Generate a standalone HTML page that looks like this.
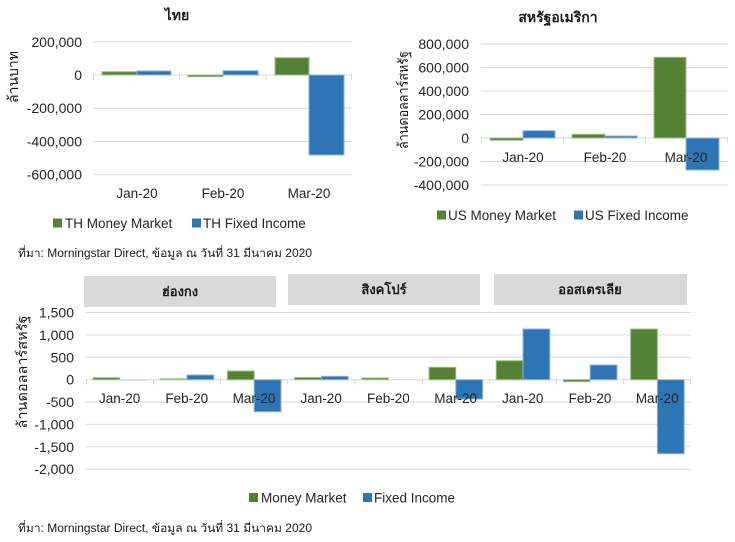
<!DOCTYPE html>
<html>
<head>
<meta charset="utf-8">
<style>
html,body{margin:0;padding:0;background:#fff;}
body{width:735px;height:542px;overflow:hidden;}
svg{display:block;}
text{font-family:"Liberation Sans","DejaVu Sans","Noto Sans CJK SC",sans-serif;fill:#262626;}
.tk{font-size:14px;text-anchor:end;}
.xl{font-size:13.5px;text-anchor:middle;}
.lg{font-size:13.5px;}
.tt{font-size:14px;font-weight:bold;text-anchor:middle;fill:#1a1a1a;}
.yl{font-size:14px;text-anchor:middle;fill:#1a1a1a;}
.src{font-size:11.5px;fill:#1a1a1a;}
.g{fill:#548235;stroke:#9fbf86;stroke-width:1;}
.b{fill:#2e75b6;stroke:#8fb3db;stroke-width:1;}
.gl{stroke:#d9d9d9;stroke-width:1;}
</style>
</head>
<body>
<svg width="735" height="542" viewBox="0 0 735 542" xmlns="http://www.w3.org/2000/svg">
<!-- ===== Top-left: Thailand ===== -->
<text class="tt" x="177" y="20">ไทย</text>
<g>
<line class="gl" x1="93" y1="41.8" x2="352" y2="41.8"/>
<line class="gl" x1="93" y1="108.2" x2="352" y2="108.2"/>
<line class="gl" x1="93" y1="141.4" x2="352" y2="141.4"/>
<line class="gl" x1="93" y1="174.6" x2="352" y2="174.6"/>
<line class="gl" x1="93" y1="75" x2="352" y2="75"/>
<line class="gl" x1="93.5" y1="75" x2="93.5" y2="80"/>
<line class="gl" x1="179.5" y1="75" x2="179.5" y2="80"/>
<line class="gl" x1="266" y1="75" x2="266" y2="80"/>
<line class="gl" x1="351.5" y1="75" x2="351.5" y2="80"/>
</g>
<text class="tk" x="82" y="46.8">200,000</text>
<text class="tk" x="82" y="80">0</text>
<text class="tk" x="82" y="113.2">-200,000</text>
<text class="tk" x="82" y="146.4">-400,000</text>
<text class="tk" x="82" y="179.6">-600,000</text>
<text class="yl" transform="translate(18,77) rotate(-90)">ล้านบาท</text>
<rect class="g" x="102" y="71.7" width="35" height="3.3"/>
<rect class="b" x="137" y="71" width="34" height="4"/>
<rect class="g" x="188" y="75" width="35" height="1.7"/>
<rect class="b" x="223" y="70.7" width="35" height="4.3"/>
<rect class="g" x="275" y="57.7" width="34" height="17.3"/>
<rect class="b" x="309" y="75" width="35" height="80"/>
<text class="xl" x="137" y="198">Jan-20</text>
<text class="xl" x="223" y="198">Feb-20</text>
<text class="xl" x="309" y="198">Mar-20</text>
<rect x="53" y="218.5" width="9" height="9" fill="#548235"/>
<text class="lg" x="65" y="228">TH Money Market</text>
<rect x="192" y="218.5" width="9" height="9" fill="#2e75b6"/>
<text class="lg" x="203" y="228">TH Fixed Income</text>
<text class="src" x="18" y="257" textLength="294" lengthAdjust="spacingAndGlyphs">ที่มา: Morningstar Direct, ข้อมูล ณ วันที่ 31 มีนาคม 2020</text>

<!-- ===== Top-right: USA ===== -->
<text class="tt" x="558" y="22">สหรัฐอเมริกา</text>
<g>
<line class="gl" x1="481" y1="44" x2="728" y2="44"/>
<line class="gl" x1="481" y1="67.5" x2="728" y2="67.5"/>
<line class="gl" x1="481" y1="91" x2="728" y2="91"/>
<line class="gl" x1="481" y1="114.5" x2="728" y2="114.5"/>
<line class="gl" x1="481" y1="161.5" x2="728" y2="161.5"/>
<line class="gl" x1="481" y1="185" x2="728" y2="185"/>
<line class="gl" x1="481" y1="138" x2="728" y2="138"/>
<line class="gl" x1="481.5" y1="138" x2="481.5" y2="143"/>
<line class="gl" x1="563.5" y1="138" x2="563.5" y2="143"/>
<line class="gl" x1="645.5" y1="138" x2="645.5" y2="143"/>
<line class="gl" x1="727.5" y1="138" x2="727.5" y2="143"/>
</g>
<text class="tk" x="469" y="49">800,000</text>
<text class="tk" x="469" y="72.5">600,000</text>
<text class="tk" x="469" y="96">400,000</text>
<text class="tk" x="469" y="119.5">200,000</text>
<text class="tk" x="469" y="143">0</text>
<text class="tk" x="469" y="166.5">-200,000</text>
<text class="tk" x="469" y="190">-400,000</text>
<text class="yl" transform="translate(408,100) rotate(-90)" textLength="98" lengthAdjust="spacingAndGlyphs">ล้านดอลลาร์สหรัฐ</text>
<rect class="g" x="490" y="138" width="33" height="2.3"/>
<rect class="b" x="523" y="130.7" width="32" height="7.3"/>
<rect class="g" x="572" y="134.3" width="33" height="3.7"/>
<rect class="b" x="605" y="136" width="32" height="2"/>
<rect class="g" x="654" y="57.3" width="32" height="80.7"/>
<rect class="b" x="686" y="138" width="33" height="32"/>
<text class="xl" x="523" y="162">Jan-20</text>
<text class="xl" x="605" y="162">Feb-20</text>
<text class="xl" x="686" y="162">Mar-20</text>
<rect x="437" y="210.5" width="9" height="9" fill="#548235"/>
<text class="lg" x="448" y="220">US Money Market</text>
<rect x="574" y="210.5" width="9" height="9" fill="#2e75b6"/>
<text class="lg" x="585" y="220">US Fixed Income</text>

<!-- ===== Bottom: HK / SG / AU ===== -->
<rect x="84" y="276" width="192" height="31" fill="#d9d9d9"/>
<rect x="288" y="274" width="192" height="31" fill="#d9d9d9"/>
<rect x="494" y="274" width="193" height="31" fill="#d9d9d9"/>
<text class="tt" x="180" y="296" style="font-size:13px">ฮ่องกง</text>
<text class="tt" x="384" y="294" style="font-size:13px">สิงคโปร์</text>
<text class="tt" x="590" y="294" style="font-size:13px">ออสเตรเลีย</text>
<g>
<line class="gl" x1="86" y1="312.5" x2="691" y2="312.5"/>
<line class="gl" x1="86" y1="335" x2="691" y2="335"/>
<line class="gl" x1="86" y1="357.3" x2="691" y2="357.3"/>
<line class="gl" x1="86" y1="402" x2="691" y2="402"/>
<line class="gl" x1="86" y1="424.4" x2="691" y2="424.4"/>
<line class="gl" x1="86" y1="446.8" x2="691" y2="446.8"/>
<line class="gl" x1="86" y1="469.2" x2="691" y2="469.2"/>
<line class="gl" x1="86" y1="379.7" x2="691" y2="379.7"/>
<line class="gl" x1="86.5" y1="379.7" x2="86.5" y2="384.5"/>
<line class="gl" x1="153.5" y1="379.7" x2="153.5" y2="384.5"/>
<line class="gl" x1="220.5" y1="379.7" x2="220.5" y2="384.5"/>
<line class="gl" x1="287.5" y1="379.7" x2="287.5" y2="384.5"/>
<line class="gl" x1="355" y1="379.7" x2="355" y2="384.5"/>
<line class="gl" x1="422.5" y1="379.7" x2="422.5" y2="384.5"/>
<line class="gl" x1="489.5" y1="379.7" x2="489.5" y2="384.5"/>
<line class="gl" x1="556.5" y1="379.7" x2="556.5" y2="384.5"/>
<line class="gl" x1="623.5" y1="379.7" x2="623.5" y2="384.5"/>
<line class="gl" x1="690.5" y1="379.7" x2="690.5" y2="384.5"/>
</g>
<text class="tk" x="74" y="317.5">1,500</text>
<text class="tk" x="74" y="340">1,000</text>
<text class="tk" x="74" y="362.3">500</text>
<text class="tk" x="74" y="384.7">0</text>
<text class="tk" x="74" y="407">-500</text>
<text class="tk" x="74" y="429.4">-1,000</text>
<text class="tk" x="74" y="451.8">-1,500</text>
<text class="tk" x="74" y="474.2">-2,000</text>
<text class="yl" transform="translate(27,372) rotate(-90)" textLength="113" lengthAdjust="spacingAndGlyphs">ล้านดอลลาร์สหรัฐ</text>
<!-- HK -->
<rect class="g" x="93" y="377.7" width="26.8" height="2"/>
<rect x="120" y="379.7" width="26.8" height="1.2" fill="#c9d9ee"/>
<rect class="g" x="160.2" y="378.8" width="26.8" height="0.9"/>
<rect class="b" x="187" y="375" width="26.8" height="4.7"/>
<rect class="g" x="227.4" y="371" width="26.8" height="8.7"/>
<rect class="b" x="254.2" y="379.7" width="26.8" height="32"/>
<!-- SG -->
<rect class="g" x="294.6" y="377.5" width="26.8" height="2.2"/>
<rect class="b" x="321.4" y="376.3" width="26.8" height="3.4"/>
<rect class="g" x="361.8" y="378" width="26.8" height="1.7"/>
<rect class="g" x="429" y="367.3" width="26.8" height="12.4"/>
<rect class="b" x="455.8" y="379.7" width="26.8" height="19.3"/>
<!-- AU -->
<rect class="g" x="496.2" y="360.7" width="26.8" height="19"/>
<rect class="b" x="523" y="329" width="26.8" height="50.7"/>
<rect class="g" x="563.4" y="379.7" width="26.8" height="2"/>
<rect class="b" x="590.2" y="365" width="26.8" height="14.7"/>
<rect class="g" x="630.6" y="329" width="26.8" height="50.7"/>
<rect class="b" x="657.4" y="379.7" width="26.8" height="74"/>
<text class="xl" x="119.6" y="403">Jan-20</text>
<text class="xl" x="186.8" y="403">Feb-20</text>
<text class="xl" x="254" y="403">Mar-20</text>
<text class="xl" x="321.2" y="403">Jan-20</text>
<text class="xl" x="388.4" y="403">Feb-20</text>
<text class="xl" x="455.6" y="403">Mar-20</text>
<text class="xl" x="522.8" y="403">Jan-20</text>
<text class="xl" x="590" y="403">Feb-20</text>
<text class="xl" x="657.2" y="403">Mar-20</text>
<rect x="249" y="493" width="9" height="9" fill="#548235"/>
<text class="lg" x="261" y="502.5">Money Market</text>
<rect x="363" y="493" width="9" height="9" fill="#2e75b6"/>
<text class="lg" x="374" y="502.5">Fixed Income</text>
<text class="src" x="18" y="532" textLength="294" lengthAdjust="spacingAndGlyphs">ที่มา: Morningstar Direct, ข้อมูล ณ วันที่ 31 มีนาคม 2020</text>
</svg>
</body>
</html>
